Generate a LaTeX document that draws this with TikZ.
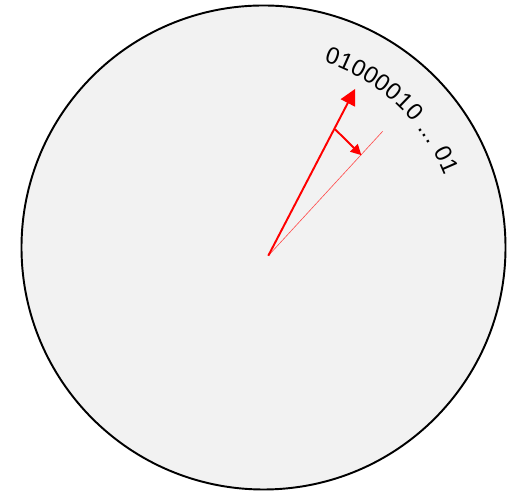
\documentclass[tikz,border=0pt]{standalone}
\usepackage{fontspec}
\setmainfont{Liberation Sans}
\usetikzlibrary{arrows.meta, decorations.text}

\definecolor{dialgray}{HTML}{F2F2F2}

\begin{document}
\begin{tikzpicture}[
    x=0.02cm, y=0.02cm,
    dial/.style={draw=black, fill=dialgray, line width=1.1pt},
    vec/.style={draw=red, line width=1.1pt, -{Triangle[length=9pt, width=9pt]}},
    guide/.style={draw=red!70, line width=0.35pt},
    turn/.style={draw=red, line width=1.1pt, -{Triangle[length=6pt, width=6pt]}}
]
\useasboundingbox (0,0) rectangle (507,492);

% the dial
\coordinate (centre) at (263.5,244.5);
\path[dial] (centre) circle[radius=242];

% the vector and the reference direction
\coordinate (origin) at (268.3,236.3);
\coordinate (vtip) at ([shift={(62.5:188)}]origin);
\coordinate (gtip) at ([shift={(47.4:169)}]origin);
\draw[guide] (origin) -- (gtip);
\draw[vec] (origin) -- (vtip);

% rotation
\coordinate (rotfrom) at ([shift={(62.2:143)}]origin);
\coordinate (rotto) at ([shift={(47.2:137)}]origin);
\draw[turn] (rotfrom) -- (rotto);

% bits around the rim
\path[decorate, decoration={text along path, text align=fit to path,
    text={|\fontsize{13.5}{15}\selectfont|01000010 ... 01}}]
  ([shift={(72:195)}]centre) arc[start angle=72, end angle=21.5, radius=195];
\end{tikzpicture}
\end{document}
